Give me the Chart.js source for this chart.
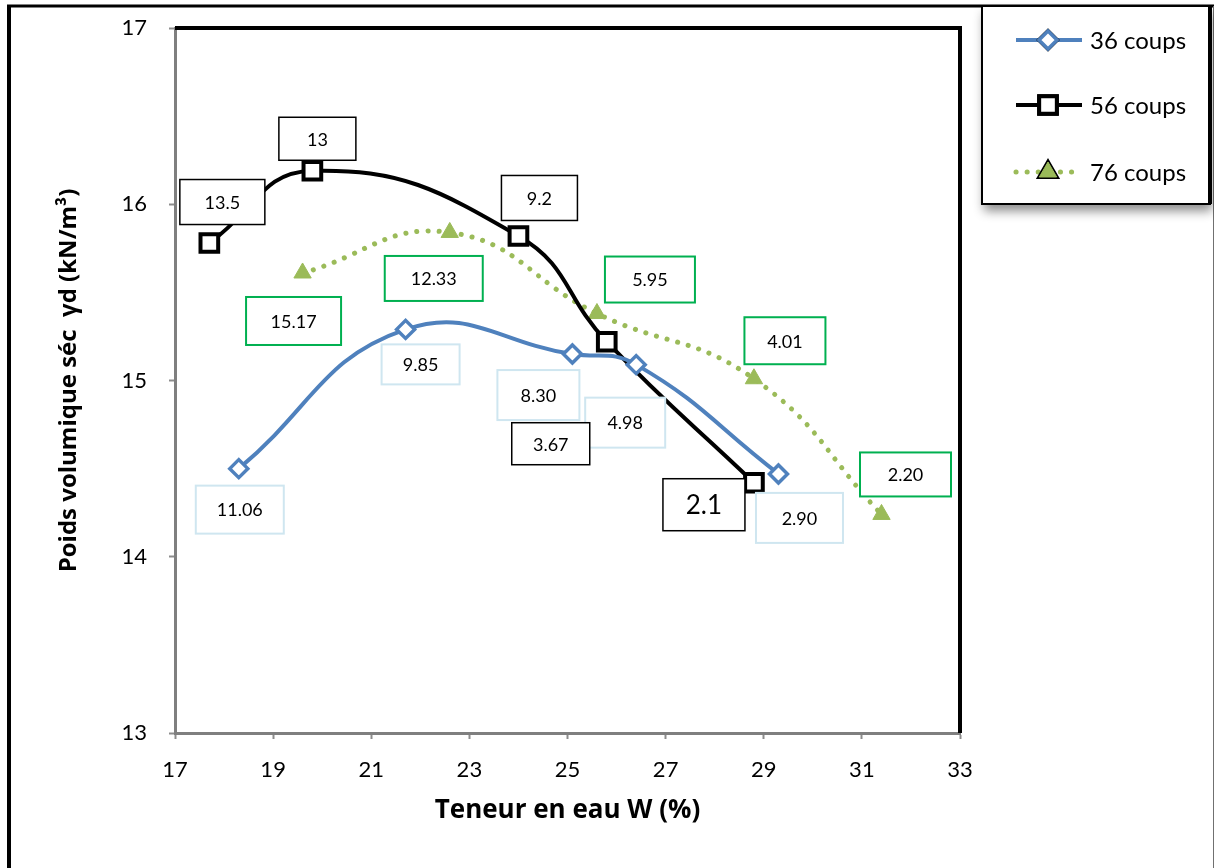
<!DOCTYPE html>
<html>
<head>
<meta charset="utf-8">
<script src="https://cdn.jsdelivr.net/npm/chart.js"></script>
<style>
  body { margin: 0; background: #fff; }
  .chart-container { width: 1214px; height: 868px; }
</style>
</head>
<body>
<div class="chart-container"><canvas id="chart" width="1214" height="868"></canvas></div>
<script>
// teneur en eau W (%) / poids volumique sec (kN/m3)
const w36 = [18.3, 21.7, 25.1, 26.4, 29.3];
const gd36 = [14.50, 15.29, 15.15, 15.09, 14.47];
const lab36 = ['11.06', '9.85', '8.30', '4.98', '2.90'];

const w56 = [17.7, 19.8, 24.0, 25.8, 28.8];
const gd56 = [15.78, 16.19, 15.82, 15.22, 14.42];
const lab56 = ['13.5', '13', '9.2', '3.67', '2.1'];

const w76 = [19.6, 22.6, 25.6, 28.8, 31.4];
const gd76 = [15.61, 15.84, 15.38, 15.01, 14.24];
const lab76 = ['15.17', '12.33', '5.95', '4.01', '2.20'];

const seriesNames = ['36 coups', '56 coups', '76 coups'];
const xTitle = 'Teneur en eau W (%)';
const yTitle = 'Poids volumique séc  γd (kN/m³)';

// label boxes: offset from the point, box size, font size
const boxes36 = [[1, 41, 88, 48, 18], [15, 35, 78, 40, 18], [-34, 41, 82, 50, 18], [-11, 58, 80, 50, 18], [21, 44, 87, 50, 18]];
const boxes56 = [[13, -41, 85, 45, 18], [5, -32, 77, 43, 18], [21, -38, 76, 45, 18], [-56, 102, 78, 42, 18], [-50, 22, 82, 52, 26]];
const boxes76 = [[-9, 48, 95, 48, 18], [-16, 46, 98, 45, 18], [53, -34, 90, 46, 18], [31, -38, 81, 47, 18], [24, -40, 91, 44, 18]];

const FONT = 'Lato, "Open Sans", "Liberation Sans", sans-serif';
const TITLE_FONT = '"Open Sans", Lato, "Liberation Sans", sans-serif';

function toPoints(xs, ys) {
  return xs.map((x, i) => ({ x: x, y: ys[i] }));
}

const framePlugin = {
  id: 'frame',
  beforeDraw(chart) {
    const ctx = chart.ctx;
    ctx.save();
    ctx.fillStyle = '#fff';
    ctx.fillRect(0, 0, chart.width, chart.height);
    ctx.strokeStyle = '#000';
    ctx.lineWidth = 4;
    ctx.beginPath();
    ctx.moveTo(9, 868);
    ctx.lineTo(9, 6);
    ctx.stroke();
    ctx.lineWidth = 3;
    ctx.beginPath();
    ctx.moveTo(7, 6);
    ctx.lineTo(1214, 6);
    ctx.stroke();
    ctx.strokeStyle = '#707070';
    ctx.lineWidth = 1;
    ctx.beginPath();
    ctx.moveTo(1213.5, 6);
    ctx.lineTo(1213.5, 868);
    ctx.stroke();
    ctx.restore();
  },
  beforeDatasetsDraw(chart) {
    const { ctx, chartArea: a } = chart;
    ctx.save();
    ctx.strokeStyle = '#000';
    ctx.lineWidth = 4;
    ctx.beginPath();
    ctx.moveTo(a.left, a.top);
    ctx.lineTo(a.right, a.top);
    ctx.lineTo(a.right, a.bottom);
    ctx.stroke();
    ctx.restore();
  },
};

const labelPlugin = {
  id: 'pointLabels',
  afterDatasetsDraw(chart) {
    const ctx = chart.ctx;
    chart.data.datasets.forEach((ds, i) => {
      const meta = chart.getDatasetMeta(i);
      meta.data.forEach((pt, j) => {
        const [dx, dy, bw, bh, fs] = ds.boxes[j];
        const cx = pt.x + dx;
        const cy = pt.y + dy;
        ctx.save();
        ctx.fillStyle = '#fff';
        ctx.fillRect(cx - bw / 2, cy - bh / 2, bw, bh);
        ctx.strokeStyle = ds.boxColor;
        ctx.lineWidth = ds.boxLine;
        ctx.strokeRect(cx - bw / 2, cy - bh / 2, bw, bh);
        ctx.fillStyle = '#000';
        ctx.font = `${fs}px ${FONT}`;
        ctx.textAlign = 'center';
        ctx.textBaseline = 'middle';
        ctx.fillText(ds.pointText[j], cx, cy + 1);
        ctx.restore();
      });
    });
  },
};

const legendPlugin = {
  id: 'sideLegend',
  afterDraw(chart) {
    const ctx = chart.ctx;
    const left = 982, top = 6, width = 228, height = 198;
    ctx.save();
    ctx.shadowColor = 'rgba(0,0,0,0.45)';
    ctx.shadowBlur = 10;
    ctx.shadowOffsetY = 7;
    ctx.shadowOffsetX = 2;
    ctx.fillStyle = '#fff';
    ctx.fillRect(left, top, width, height);
    ctx.restore();

    ctx.save();
    ctx.strokeStyle = '#000';
    ctx.lineWidth = 2;
    ctx.strokeRect(left, top, width, height);
    ctx.lineWidth = 4;
    ctx.beginPath();
    ctx.moveTo(left + width, top);
    ctx.lineTo(left + width, top + height);
    ctx.stroke();

    const rows = [40, 105, 172];
    chart.data.datasets.forEach((ds, i) => {
      const y = rows[i];
      ctx.save();
      ctx.strokeStyle = ds.borderColor;
      ctx.lineWidth = ds.borderWidth;
      ctx.lineCap = ds.borderCapStyle || 'butt';
      ctx.setLineDash(ds.borderDash || []);
      ctx.beginPath();
      ctx.moveTo(1016, y);
      ctx.lineTo(1082, y);
      ctx.stroke();
      ctx.restore();
      Chart.helpers.drawPoint(ctx, {
        pointStyle: ds.pointStyle,
        radius: ds.pointRadius,
        borderWidth: ds.pointBorderWidth,
        rotation: 0,
      }, 1048, y);
      ctx.save();
      ctx.fillStyle = ds.pointBackgroundColor;
      ctx.strokeStyle = ds.pointBorderColor;
      ctx.lineWidth = ds.pointBorderWidth;
      ctx.fill();
      ctx.stroke();
      ctx.restore();
      ctx.fillStyle = '#000';
      ctx.font = `24px ${FONT}`;
      ctx.textAlign = 'left';
      ctx.textBaseline = 'middle';
      ctx.fillText(ds.label, 1090, y + 1);
    });
    ctx.restore();
  },
};

const chartConfig = {
  type: 'line',
  data: {
    datasets: [
      {
        label: seriesNames[0],
        data: toPoints(w36, gd36),
        borderColor: '#4F81BD',
        borderWidth: 4,
        tension: 0.45,
        pointStyle: 'rectRot',
        pointRadius: 9,
        pointBorderWidth: 3.5,
        pointBackgroundColor: '#fff',
        pointBorderColor: '#4F81BD',
        pointText: lab36,
        boxes: boxes36,
        boxColor: '#CFE6F0',
        boxLine: 2,
      },
      {
        label: seriesNames[1],
        data: toPoints(w56, gd56),
        borderColor: '#000',
        borderWidth: 4,
        tension: 0.45,
        pointStyle: 'rect',
        pointRadius: 12.5,
        pointBorderWidth: 4,
        pointBackgroundColor: '#fff',
        pointBorderColor: '#000',
        pointText: lab56,
        boxes: boxes56,
        boxColor: '#000',
        boxLine: 1.5,
      },
      {
        label: seriesNames[2],
        data: toPoints(w76, gd76),
        borderColor: '#9BBB59',
        borderWidth: 5,
        borderDash: [0.1, 11],
        borderCapStyle: 'round',
        tension: 0.45,
        pointStyle: 'triangle',
        pointRadius: 10,
        pointBorderWidth: 1,
        pointBackgroundColor: '#9BBB59',
        pointBorderColor: '#9BBB59',
        pointText: lab76,
        boxes: boxes76,
        boxColor: '#00B050',
        boxLine: 2,
      },
    ],
  },
  options: {
    responsive: false,
    animation: false,
    devicePixelRatio: 1,
    layout: { padding: { left: 30, right: 254, top: 28, bottom: 20 } },
    plugins: {
      legend: { display: false },
      tooltip: { enabled: false },
    },
    scales: {
      x: {
        type: 'linear',
        min: 17,
        max: 33,
        afterFit: scale => {
          scale.height = 115;
          scale.paddingLeft = 0;
          scale.paddingRight = 0;
        },
        ticks: {
          stepSize: 2,
          padding: 18,
          color: '#000',
          font: { family: FONT, size: 22 },
        },
        grid: {
          drawOnChartArea: false,
          drawTicks: true,
          tickLength: 6,
          tickColor: '#8c8c8c',
          tickWidth: 2,
        },
        border: { color: '#7f7f7f', width: 3 },
        title: {
          display: true,
          text: xTitle,
          color: '#000',
          font: { family: TITLE_FONT, size: 26, weight: 'bold' },
          padding: { bottom: 22 },
        },
      },
      y: {
        min: 13,
        max: 17,
        afterFit: scale => {
          scale.width = 145;
          scale.paddingTop = 0;
          scale.paddingBottom = 0;
        },
        ticks: {
          stepSize: 1,
          padding: 22,
          color: '#000',
          font: { family: FONT, size: 22 },
        },
        grid: {
          drawOnChartArea: false,
          drawTicks: true,
          tickLength: 6,
          tickColor: '#8c8c8c',
          tickWidth: 2,
        },
        border: { color: '#7f7f7f', width: 3 },
        title: {
          display: true,
          text: yTitle,
          color: '#000',
          font: { family: TITLE_FONT, size: 24, weight: 'bold' },
          padding: { top: 25 },
        },
      },
    },
  },
  plugins: [framePlugin, labelPlugin, legendPlugin],
};

const myChart = new Chart(document.getElementById('chart'), chartConfig);
</script>
</body>
</html>
